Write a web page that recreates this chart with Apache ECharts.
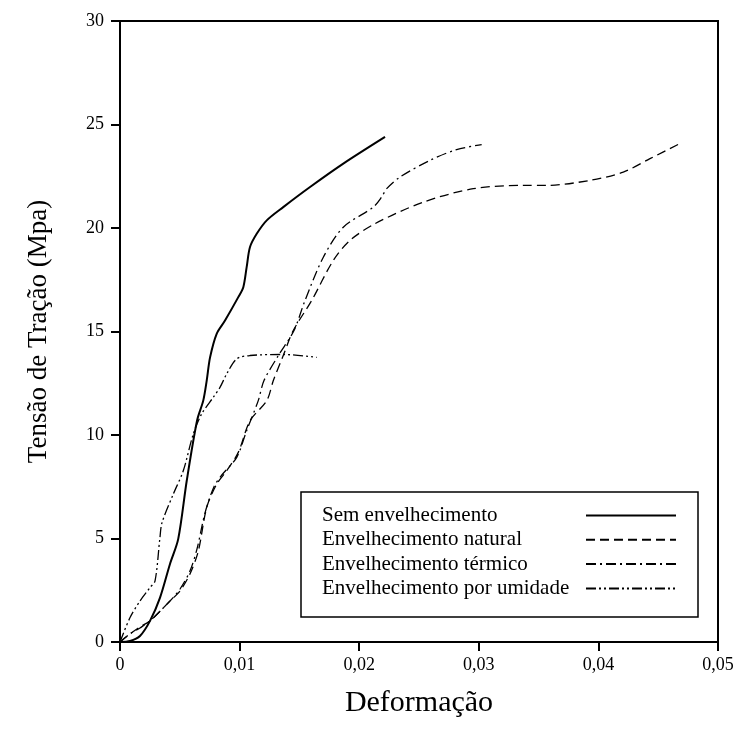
<!DOCTYPE html>
<html>
<head>
<meta charset="utf-8">
<script src="https://cdn.jsdelivr.net/npm/echarts@6/dist/echarts.min.js"></script>
<style>html,body{margin:0;padding:0;background:#fff}#c{width:745px;height:744px}</style>
</head>
<body>
<div id="c"></div>
<script>
const seriesNames = ['Sem envelhecimento','Envelhecimento natural','Envelhecimento térmico','Envelhecimento por umidade'];
const xTicks = [0,0.01,0.02,0.03,0.04,0.05];
const yTicks = [0,5,10,15,20,25,30];

const semX = [0,0.00084,0.00167,0.00251,0.00334,0.00418,0.00487,0.00558,0.00644,0.00696,0.00725,0.00753,0.00809,0.00878,0.00989,0.01031,0.01059,0.01087,0.01143,0.01227,0.01365,0.01589,0.01867,0.02216];
const semY = [0,0.05,0.29,1.02,2.13,3.77,4.98,7.79,10.69,11.66,12.63,13.75,14.90,15.53,16.66,17.14,18.11,19.08,19.72,20.37,21.01,21.98,23.11,24.40];

const natX = [0,0.00084,0.00167,0.00251,0.00418,0.00502,0.00585,0.00655,0.00725,0.00809,0.00892,0.00989,0.01087,0.01227,0.01282,0.01365,0.01449,0.01603,0.01783,0.01923,0.02132,0.02536,0.02954,0.03372,0.03568,0.0393,0.04208,0.04431,0.04682];
const natY = [0,0.39,0.73,1.02,1.98,2.47,3.29,4.40,6.50,7.63,8.27,9.16,10.69,11.66,12.63,13.84,15.05,16.50,18.43,19.40,20.21,21.25,21.90,22.06,22.06,22.30,22.70,23.35,24.08];

const terX = [0,0.00084,0.00167,0.00251,0.00418,0.00502,0.00585,0.00644,0.00711,0.00786,0.00853,0.00976,0.01059,0.01156,0.01204,0.01324,0.01455,0.01547,0.017,0.01867,0.02118,0.02188,0.0223,0.02341,0.02592,0.02815,0.03024];
const terY = [0,0.39,0.68,1.02,1.98,2.56,3.43,4.50,6.24,7.50,8.08,8.92,10.21,11.66,12.63,13.84,15.05,16.50,18.59,20.04,21.01,21.50,21.90,22.46,23.27,23.79,24.03];

const umiX = [0,0.00084,0.00167,0.00251,0.00293,0.00334,0.00351,0.00446,0.00529,0.00613,0.00683,0.0078,0.00836,0.00892,0.00976,0.01087,0.01365,0.01645];
const umiY = [0,1.18,1.98,2.63,2.95,5.05,5.76,7.15,8.27,10.05,11.02,11.82,12.30,12.95,13.68,13.84,13.89,13.75];

const zip = (xs, ys) => xs.map((x, i) => [x, ys[i]]);
const font = 'Liberation Serif, Times New Roman, serif';
const dashes = ['solid', [9, 5], [10, 4, 2, 4], [10, 3, 2, 3, 2, 3]];
const widths = [2, 1.3, 1.3, 1.3];
const datas = [zip(semX, semY), zip(natX, natY), zip(terX, terY), zip(umiX, umiY)];

const chart = echarts.init(document.getElementById('c'), null, {renderer: 'canvas'});
chart.setOption({
  animation: false,
  backgroundColor: '#fff',
  grid: {left: 120, top: 21, width: 598, height: 621, show: true, borderColor: '#000', borderWidth: 2, backgroundColor: 'transparent'},
  xAxis: {
    type: 'value', min: xTicks[0], max: xTicks[xTicks.length - 1], interval: 0.01,
    name: 'Deformação', nameLocation: 'middle', nameGap: 46,
    nameTextStyle: {fontFamily: font, fontSize: 30, color: '#000'},
    axisLine: {show: true, lineStyle: {color: '#000', width: 2}},
    axisTick: {show: true, length: 9, lineStyle: {color: '#000', width: 2}},
    axisLabel: {fontFamily: font, fontSize: 18, color: '#000', margin: 14,
      formatter: v => v === 0 ? '0' : v.toFixed(2).replace('.', ',')},
    splitLine: {show: false}
  },
  yAxis: {
    type: 'value', min: yTicks[0], max: yTicks[yTicks.length - 1], interval: 5,
    name: 'Tensão de Tração (Mpa)', nameLocation: 'middle', nameGap: 68,
    nameTextStyle: {fontFamily: font, fontSize: 27, color: '#000'},
    axisLine: {show: true, lineStyle: {color: '#000', width: 2}},
    axisTick: {show: true, length: 9, lineStyle: {color: '#000', width: 2}},
    axisLabel: {fontFamily: font, fontSize: 18, color: '#000', margin: 16},
    splitLine: {show: false}
  },
  legend: {
    orient: 'vertical', left: 301, top: 492, align: 'right',
    backgroundColor: '#fff', borderColor: '#000', borderWidth: 1.5, borderRadius: 0,
    padding: [13, 21, 18, 21], itemGap: 3.3, itemWidth: 90, itemHeight: 14,
    itemStyle: {opacity: 0},
    formatter: n => '{t|' + n + '}',
    textStyle: {fontFamily: font, fontSize: 21, color: '#000', lineHeight: 20,
      rich: {t: {fontFamily: font, fontSize: 21, color: '#000', width: 259, align: 'left', lineHeight: 20}}},
    data: seriesNames
  },
  series: seriesNames.map((n, i) => ({
    name: n, type: 'line', data: datas[i], symbol: 'none', smooth: 0.3,
    lineStyle: {color: '#000', width: widths[i], type: dashes[i]},
    itemStyle: {color: '#000'}
  }))
});
</script>
</body>
</html>
